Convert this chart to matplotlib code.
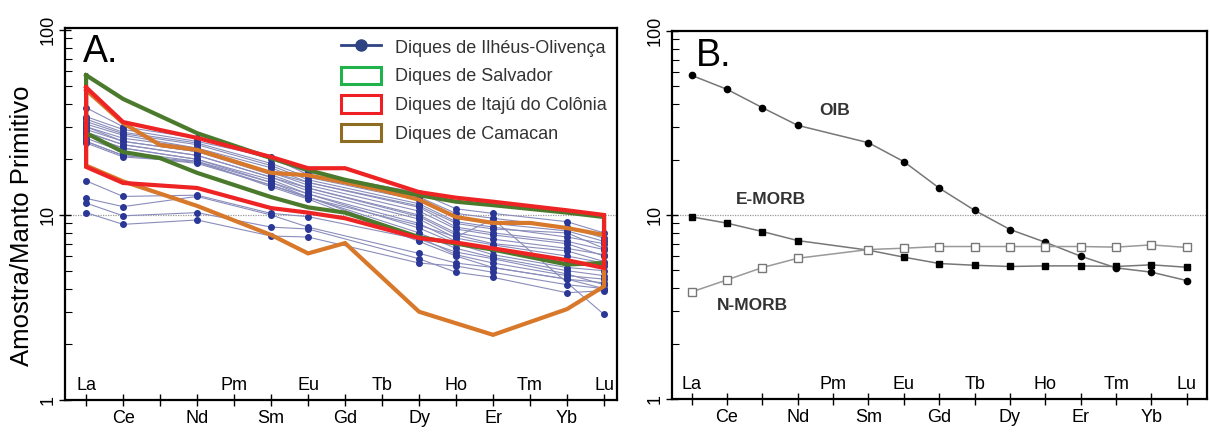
import numpy as np
import matplotlib.pyplot as plt
from matplotlib.lines import Line2D
from matplotlib.patches import Patch
from matplotlib.ticker import LogLocator, NullFormatter

plt.rcParams['font.family'] = ['Liberation Sans', 'DejaVu Sans']

# elementos terras raras (ordem do diagrama)
elementos = ['La', 'Ce', 'Pr', 'Nd', 'Pm', 'Sm', 'Eu', 'Gd', 'Tb', 'Dy', 'Ho', 'Er', 'Tm', 'Yb', 'Lu']
rotulos_cima = ['La', 'Pm', 'Eu', 'Tb', 'Ho', 'Tm', 'Lu']
rotulos_baixo = ['Ce', 'Nd', 'Sm', 'Gd', 'Dy', 'Er', 'Yb']

nan = np.nan

# amostras dos diques de Ilhéus-Olivença
elem_amostras = ['La', 'Ce', 'Nd', 'Sm', 'Eu', 'Dy', 'Ho', 'Er', 'Yb', 'Lu']
ilheus = [
    [38.0, 30.0, 26.0, 20.0, 17.0, 13.2, 10.8, 10.2, 9.2, 8.0],
    [34.0, 29.0, 25.0, 20.5, 16.5, 12.5, 10.2, 9.6, 8.6, 7.5],
    [33.0, 28.0, 24.5, 19.0, 16.0, 12.0, 9.6, 9.0, 8.2, 7.2],
    [32.0, 27.5, 24.0, 18.5, 15.5, 11.5, 9.2, 8.6, 7.6, 7.0],
    [31.0, 27.0, 23.0, 18.0, 15.0, 11.2, 9.0, 8.4, 8.0, 6.6],
    [30.0, 26.0, 23.0, 17.0, 15.0, 11.0, 8.6, 8.0, 7.2, 6.5],
    [30.0, 25.0, 22.0, 17.0, 14.5, 10.5, 8.4, 7.8, 7.0, 6.0],
    [29.0, 25.0, 22.0, 16.5, 14.0, 10.0, 8.0, 7.4, 6.6, 6.1],
    [28.0, 24.0, 21.0, 16.0, 14.0, 9.8, 7.8, 7.0, 6.4, 5.6],
    [28.0, 24.0, 21.0, 16.0, 13.5, 9.5, 7.5, 6.9, 6.0, 5.5],
    [27.0, 23.0, 20.0, 15.5, 13.0, 9.0, 7.2, 6.5, 5.5, 5.3],
    [27.0, 23.0, 20.0, 15.0, 13.0, 8.5, 7.0, 6.1, 5.2, 5.0],
    [26.0, 22.0, 19.5, 15.0, 12.5, 8.0, 6.6, 5.9, 5.0, 4.7],
    [25.0, 21.0, 19.0, 14.5, 12.5, 7.6, 6.1, 5.5, 4.7, 4.5],
    [25.0, 21.0, 19.5, 14.2, 12.2, 7.2, 6.0, 5.2, 4.5, 4.3],
    [24.5, 20.6, 19.3, 14.5, 12.4, 8.8, 7.6, 9.5, nan, 2.9],
    [15.3, 12.6, 12.8, 10.2, 9.8, 7.4, 6.3, 5.8, 4.8, 4.2],
    [12.3, 11.1, 12.6, 10.0, 8.6, 6.2, 5.5, 5.2, 4.5, 4.0],
    [11.6, 9.9, 10.3, 8.6, 8.4, 5.8, 4.9, 4.6, 3.8, 3.9],
    [10.3, 8.9, 9.4, 7.7, 7.6, 5.5, 5.3, 4.9, 4.2, 4.0],
]

# envoltórias (limite superior e inferior)
salvador_sup = [57.0, 42.4, nan, 27.7, nan, 20.3, 17.5, 15.5, nan, 12.8, 11.8, 11.3, nan, 10.3, 9.75]
salvador_inf = [27.7, 21.9, 20.3, 16.9, nan, 12.5, 11.0, 10.3, nan, 7.6, 7.0, 6.5, nan, 5.4, 5.5]
itaju_sup = [49.0, 31.8, nan, 26.1, nan, 20.6, 17.9, 17.9, nan, 13.3, 12.4, 11.8, nan, 10.6, 10.0]
itaju_inf = [18.2, 14.9, nan, 14.0, nan, 10.9, 10.3, 9.6, nan, 7.5, 7.1, 6.6, nan, 5.7, 5.17]
camacan_sup = [47.4, 31.4, 23.9, 22.5, nan, 16.9, 16.4, 15.0, 13.6, 12.1, 9.75, 9.06, 9.06, 8.5, 7.8]
camacan_inf = [18.5, 15.2, nan, 11.2, nan, 7.8, 6.2, 7.05, nan, 3.0, nan, 2.25, nan, 3.1, 4.12]

# referências (B)
oib = [57.4, 48.2, 38.3, 30.7, nan, 24.7, 19.5, 14.0, 10.6, 8.34, 7.11, 5.97, 5.16, 4.89, 4.40]
emorb = [9.77, 9.03, 8.13, 7.26, nan, 6.44, 5.90, 5.45, 5.33, 5.25, 5.29, 5.29, 5.25, 5.36, 5.20]
nmorb = [3.82, 4.44, 5.18, 5.82, nan, 6.49, 6.60, 6.74, 6.74, 6.74, 6.74, 6.74, 6.69, 6.88, 6.66]

x = np.arange(len(elementos))


def envoltoria(ax, sup, inf, cor):
    s = np.array(sup)
    i = np.array(inf)
    ms = ~np.isnan(s)
    mi = ~np.isnan(i)
    xs = np.concatenate([x[ms], x[mi][::-1], x[ms][:1]])
    ys = np.concatenate([s[ms], i[mi][::-1], s[ms][:1]])
    ax.plot(xs, ys, color=cor, lw=3, solid_joinstyle='miter', zorder=4)


def serie(ax, vals, **kw):
    v = np.array(vals)
    m = ~np.isnan(v)
    ax.plot(x[m], v[m], **kw)


def formatar(ax, ytop):
    ax.set_yscale('log')
    ax.set_ylim(1, ytop)
    ax.set_yticks([1, 10, 100])
    ax.set_yticklabels(['1', '10', '100'])
    ax.yaxis.set_minor_locator(LogLocator(base=10, subs=np.arange(2, 10)))
    ax.yaxis.set_minor_formatter(NullFormatter())
    ax.tick_params(axis='y', which='major', direction='inout', length=8, width=1,
                   labelsize=13, labelrotation=90, pad=2)
    ax.tick_params(axis='y', which='minor', direction='in', length=5, width=0.8)
    ax.set_xticks(x)
    ax.tick_params(axis='x', direction='inout', length=8, width=1, labelbottom=False)
    for lab in ax.get_yticklabels():
        lab.set_va('center')
    for sp in ax.spines.values():
        sp.set_linewidth(1.6)
    ax.axhline(10, color='#999999', lw=0.9, ls=(0, (1, 1)), zorder=1)
    tr = ax.get_xaxis_transform()
    for el in rotulos_cima:
        ax.text(elementos.index(el), 0.04, el, transform=tr, ha='center', va='center', fontsize=13)
    for el in rotulos_baixo:
        ax.text(elementos.index(el), -0.05, el, transform=tr, ha='center', va='center', fontsize=13,
                clip_on=False)


fig = plt.figure(figsize=(12.1, 4.32), dpi=100)

# painel A
axA = fig.add_axes([65 / 1210, 1 - 400 / 432, 552 / 1210, 372 / 432])
formatar(axA, 10 ** (372 / 185))
axA.set_xlim(-0.57, 14.35)

idx = [elementos.index(e) for e in elem_amostras]
for amostra in ilheus:
    v = np.array(amostra)
    m = ~np.isnan(v)
    xi = np.array(idx)[m]
    axA.plot(xi, v[m], color='#8a8dbb', lw=0.8, zorder=2)
    axA.plot(xi, v[m], ls='none', marker='o', ms=4, color='#2a3796', zorder=3)

envoltoria(axA, camacan_sup, camacan_inf, '#d8782a')
envoltoria(axA, salvador_sup, salvador_inf, '#4b7a2c')
envoltoria(axA, itaju_sup, itaju_inf, '#ee2424')

axA.text(0.033, 0.985, 'A.', transform=axA.transAxes, fontsize=27, ha='left', va='top')

handles = [
    Line2D([], [], color='#2e4482', lw=2, marker='o', ms=8),
    Patch(facecolor='white', edgecolor='#22b24c', lw=2.2),
    Patch(facecolor='white', edgecolor='#ee2024', lw=2.2),
    Patch(facecolor='white', edgecolor='#8c6d22', lw=2.2),
]
nomes = ['Diques de Ilhéus-Olivença', 'Diques de Salvador', 'Diques de Itajú do Colônia', 'Diques de Camacan']
leg = axA.legend(handles, nomes, loc='upper right', bbox_to_anchor=(1.0, 1.0), frameon=False,
                 fontsize=13, handlelength=2.2, handleheight=1.1, handletextpad=0.8,
                 labelspacing=0.55, borderaxespad=0.15)
for t in leg.get_texts():
    t.set_color('#333333')

fig.text(22 / 1210, 1 - 226 / 432, 'Amostra/Manto Primitivo', rotation=90, ha='center', va='center',
         fontsize=18.5)

# painel B
axB = fig.add_axes([672 / 1210, 1 - 399 / 432, 535 / 1210, 368 / 432])
formatar(axB, 100)
axB.set_xlim(-0.555, 14.57)

serie(axB, oib, color='#777777', lw=1.1, marker='o', ms=4.5, mfc='black', mec='black', zorder=3)
serie(axB, emorb, color='#777777', lw=1.1, marker='s', ms=5, mfc='black', mec='black', zorder=3)
serie(axB, nmorb, color='#999999', lw=1.1, marker='s', ms=6, mfc='white', mec='#777777', zorder=3)

axB.text(4.04, 37.2, 'OIB', fontsize=12.5, fontweight='bold', color='#333333', ha='center', va='center')
axB.text(2.25, 12.1, 'E-MORB', fontsize=12.5, fontweight='bold', color='#333333', ha='center', va='center')
axB.text(1.72, 3.24, 'N-MORB', fontsize=12.5, fontweight='bold', color='#333333', ha='center', va='center')
axB.text(0.045, 0.98, 'B.', transform=axB.transAxes, fontsize=27, ha='left', va='top')

fig.savefig('out.png', dpi=100)
